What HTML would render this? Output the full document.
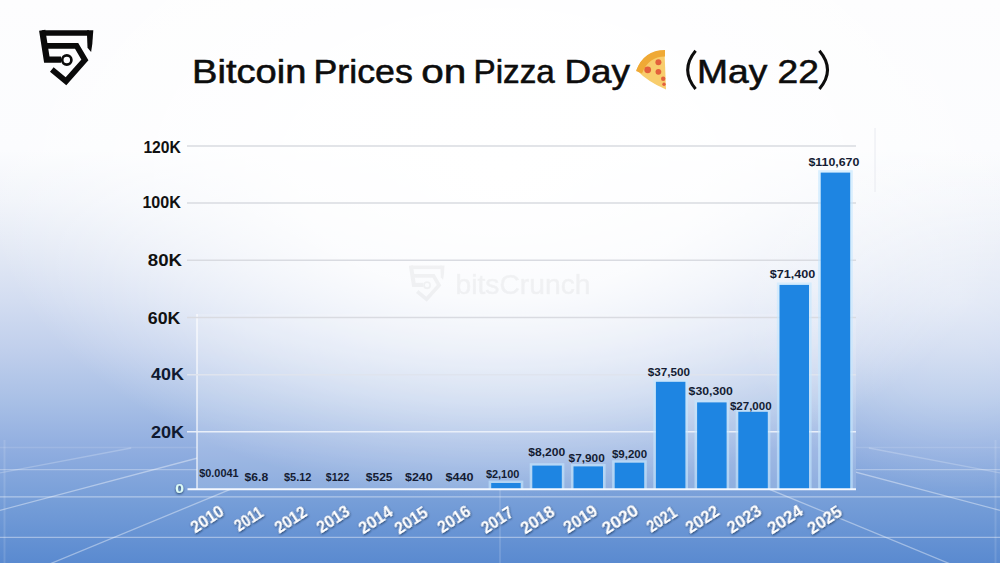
<!DOCTYPE html><html><head><meta charset="utf-8"><style>
html,body{margin:0;padding:0;width:1000px;height:563px;overflow:hidden;background:#fff}
svg{display:block}
text{font-family:"Liberation Sans",sans-serif}
</style></head><body>
<svg width="1000" height="563" viewBox="0 0 1000 563">
<defs>
<linearGradient id="bg" x1="0" y1="0" x2="0" y2="1">
<stop offset="0" stop-color="#fdfdfe"/>
<stop offset="0.266" stop-color="#fbfcfe"/>
<stop offset="0.355" stop-color="#f1f4fa"/>
<stop offset="0.444" stop-color="#e3e9f5"/>
<stop offset="0.533" stop-color="#d3ddf1"/>
<stop offset="0.622" stop-color="#c0cfec"/>
<stop offset="0.71" stop-color="#a9c0e6"/>
<stop offset="0.795" stop-color="#91aee0"/>
<stop offset="0.89" stop-color="#769ed8"/>
<stop offset="1" stop-color="#5a8ad0"/>
</linearGradient>
<radialGradient id="glow" cx="500" cy="170" r="520" gradientUnits="userSpaceOnUse" gradientTransform="translate(500 170) scale(1 0.635) translate(-500 -170)">
<stop offset="0" stop-color="#fff" stop-opacity="1"/>
<stop offset="0.39" stop-color="#fff" stop-opacity="0.88"/>
<stop offset="0.545" stop-color="#fff" stop-opacity="0.68"/>
<stop offset="0.70" stop-color="#fff" stop-opacity="0.45"/>
<stop offset="0.82" stop-color="#fff" stop-opacity="0.25"/>
<stop offset="1" stop-color="#fff" stop-opacity="0"/>
</radialGradient>
<mask id="floormask"><rect width="1000" height="563" fill="#fff"/><rect x="197" y="300" width="659" height="189" fill="#000"/></mask>
<radialGradient id="glowR" cx="960" cy="300" r="220" gradientUnits="userSpaceOnUse" gradientTransform="translate(960 300) scale(1 0.9) translate(-960 -300)">
<stop offset="0" stop-color="#fff" stop-opacity="0.42"/>
<stop offset="0.5" stop-color="#fff" stop-opacity="0.25"/>
<stop offset="1" stop-color="#fff" stop-opacity="0"/>
</radialGradient>
<filter id="pblur" x="-10%" y="-10%" width="120%" height="120%"><feGaussianBlur stdDeviation="0.45"/></filter>
<filter id="ysh" x="-20%" y="-20%" width="140%" height="140%">
<feDropShadow dx="0" dy="1" stdDeviation="0.8" flood-color="#102040" flood-opacity="0.8"/>
</filter>
</defs>
<rect width="1000" height="563" fill="url(#bg)"/>
<rect width="1000" height="563" fill="url(#glow)"/>
<rect width="1000" height="563" fill="url(#glowR)"/>

<g stroke="#ffffff" stroke-width="1.3" fill="none" mask="url(#floormask)">
<line x1="0" y1="447.5" x2="1000" y2="447.5" stroke-opacity="0.12"/>
<line x1="0" y1="469.6" x2="1000" y2="469.6" stroke-opacity="0.3"/>
<line x1="0" y1="496.8" x2="1000" y2="496.8" stroke-opacity="0.42"/>
<line x1="0" y1="537.4" x2="1000" y2="537.4" stroke-opacity="0.4"/>
<line x1="0" y1="510.3" x2="235.4" y2="448.0" stroke-opacity="0.4"/>
<line x1="0" y1="584.5" x2="330.5" y2="448.0" stroke-opacity="0.4"/>
<line x1="0" y1="472.9" x2="131.2" y2="448.0" stroke-opacity="0.22"/>
<line x1="1000" y1="510.3" x2="764.6" y2="448.0" stroke-opacity="0.4"/>
<line x1="1000" y1="584.5" x2="669.5" y2="448.0" stroke-opacity="0.4"/>
<line x1="1000" y1="472.9" x2="868.8" y2="448.0" stroke-opacity="0.22"/>
<line x1="500" y1="563" x2="500.0" y2="448.0" stroke-opacity="0.2"/>
<line x1="4.5" y1="440" x2="4.5" y2="563" stroke-opacity="0.12" stroke-width="2"/>
<line x1="995.5" y1="440" x2="995.5" y2="563" stroke-opacity="0.12" stroke-width="2"/>
</g>
<rect x="197" y="314" width="659" height="175" fill="#ffffff" opacity="0.14"/>
<line x1="197" y1="314" x2="197" y2="489" stroke="#ffffff" stroke-opacity="0.75" stroke-width="1.5"/>
<line x1="875" y1="128" x2="875" y2="192" stroke="#e8eaf0" stroke-width="1"/>
<line x1="187" y1="431.8" x2="856" y2="431.8" stroke="#e9eff9" stroke-width="1.5"/>
<line x1="187" y1="374.7" x2="856" y2="374.7" stroke="#dfe4ee" stroke-width="1.5"/>
<line x1="187" y1="317.5" x2="856" y2="317.5" stroke="#d9dbe1" stroke-width="1.5"/>
<line x1="187" y1="260.3" x2="856" y2="260.3" stroke="#d9dbe1" stroke-width="1.5"/>
<line x1="187" y1="203.1" x2="856" y2="203.1" stroke="#d9dbe1" stroke-width="1.5"/>
<line x1="187" y1="146.0" x2="856" y2="146.0" stroke="#d9dbe1" stroke-width="1.5"/>
<g opacity="0.038" fill="#000"><text x="455.5" y="293.5" font-size="27" textLength="135" lengthAdjust="spacingAndGlyphs" stroke="#000" stroke-width="0.6">bitsCrunch</text></g>
<g opacity="0.038" fill="none" stroke="#000" stroke-linejoin="miter" transform="translate(383 245.6) scale(0.66)"><path d="M42.2 32.9 L89 32.9" stroke-width="5.5"/>
<path d="M61 59.6 L46.8 59.6 L42.2 30.2" stroke-width="6.3"/>
<polygon points="87,30.2 93.3,30.2 92.3,44 91.1,52 87.5,47.8 87,35" fill="#000" stroke="none"/>
<path d="M44 45.9 L76.6 45.9 L84.9 60 L66 81.2 L51.8 69.5" stroke-width="5.7"/>
<circle cx="66.8" cy="60" r="4.6" stroke-width="2.7"/></g>
<rect x="488.6" y="480.6" width="34.7" height="8.4" fill="#c4e8ff" opacity="0.6"/>
<rect x="491.2" y="483.0" width="29.5" height="6.0" fill="#1e85e2"/>
<rect x="529.7" y="463.2" width="34.7" height="25.8" fill="#c4e8ff" opacity="0.6"/>
<rect x="532.3" y="465.6" width="29.5" height="23.4" fill="#1e85e2"/>
<rect x="570.9" y="464.0" width="34.7" height="25.0" fill="#c4e8ff" opacity="0.6"/>
<rect x="573.5" y="466.4" width="29.5" height="22.6" fill="#1e85e2"/>
<rect x="612.1" y="460.3" width="34.7" height="28.7" fill="#c4e8ff" opacity="0.6"/>
<rect x="614.7" y="462.7" width="29.5" height="26.3" fill="#1e85e2"/>
<rect x="653.3" y="379.4" width="34.7" height="109.6" fill="#c4e8ff" opacity="0.6"/>
<rect x="655.9" y="381.8" width="29.5" height="107.2" fill="#1e85e2"/>
<rect x="694.5" y="400.0" width="34.7" height="89.0" fill="#c4e8ff" opacity="0.6"/>
<rect x="697.1" y="402.4" width="29.5" height="86.6" fill="#1e85e2"/>
<rect x="735.7" y="409.4" width="34.7" height="79.6" fill="#c4e8ff" opacity="0.6"/>
<rect x="738.3" y="411.8" width="29.5" height="77.2" fill="#1e85e2"/>
<rect x="776.9" y="282.5" width="34.7" height="206.5" fill="#c4e8ff" opacity="0.6"/>
<rect x="779.5" y="284.9" width="29.5" height="204.1" fill="#1e85e2"/>
<rect x="818.1" y="170.2" width="34.7" height="318.8" fill="#c4e8ff" opacity="0.6"/>
<rect x="820.7" y="172.6" width="29.5" height="316.4" fill="#1e85e2"/>
<line x1="187.5" y1="489.2" x2="856" y2="489.2" stroke="#f4f8ff" stroke-width="2"/>
<text x="175.3" y="493.0" font-size="13.5" font-weight="bold" fill="#dcfbf5" filter="url(#ysh)" textLength="8.7" lengthAdjust="spacingAndGlyphs">0</text>
<text x="150.9" y="437.7" font-size="16.3" font-weight="bold" fill="#101a30" textLength="33.2" lengthAdjust="spacingAndGlyphs">20K</text>
<text x="151.1" y="379.6" font-size="16.8" font-weight="bold" fill="#101a30" textLength="32.9" lengthAdjust="spacingAndGlyphs">40K</text>
<text x="147.8" y="324.2" font-size="16.5" font-weight="bold" fill="#111" textLength="32.6" lengthAdjust="spacingAndGlyphs">60K</text>
<text x="147.8" y="265.9" font-size="16.6" font-weight="bold" fill="#111" textLength="34.2" lengthAdjust="spacingAndGlyphs">80K</text>
<text x="142.4" y="208.2" font-size="17.3" font-weight="bold" fill="#111" textLength="38.5" lengthAdjust="spacingAndGlyphs">100K</text>
<text x="143.4" y="153.2" font-size="17.0" font-weight="bold" fill="#111" textLength="37.5" lengthAdjust="spacingAndGlyphs">120K</text>
<text x="199.2" y="476.6" font-size="11.5" font-weight="bold" fill="#141c33" textLength="39.4" lengthAdjust="spacingAndGlyphs">$0.0041</text>
<text x="244.6" y="480.6" font-size="11.5" font-weight="bold" fill="#141c33" textLength="23.6" lengthAdjust="spacingAndGlyphs">$6.8</text>
<text x="284.0" y="480.6" font-size="11.5" font-weight="bold" fill="#141c33" textLength="27.4" lengthAdjust="spacingAndGlyphs">$5.12</text>
<text x="325.8" y="480.8" font-size="11.5" font-weight="bold" fill="#141c33" textLength="23.5" lengthAdjust="spacingAndGlyphs">$122</text>
<text x="365.8" y="480.8" font-size="11.5" font-weight="bold" fill="#141c33" textLength="26.7" lengthAdjust="spacingAndGlyphs">$525</text>
<text x="405.0" y="480.8" font-size="11.5" font-weight="bold" fill="#141c33" textLength="27.6" lengthAdjust="spacingAndGlyphs">$240</text>
<text x="445.5" y="480.8" font-size="11.5" font-weight="bold" fill="#141c33" textLength="28.0" lengthAdjust="spacingAndGlyphs">$440</text>
<text x="485.9" y="477.9" font-size="11.5" font-weight="bold" fill="#141c33" textLength="33.4" lengthAdjust="spacingAndGlyphs">$2,100</text>
<text x="528.2" y="456.3" font-size="11.5" font-weight="bold" fill="#141c33" textLength="37.0" lengthAdjust="spacingAndGlyphs">$8,200</text>
<text x="568.6" y="461.7" font-size="11.5" font-weight="bold" fill="#141c33" textLength="36.2" lengthAdjust="spacingAndGlyphs">$7,900</text>
<text x="611.9" y="458.1" font-size="11.5" font-weight="bold" fill="#141c33" textLength="35.2" lengthAdjust="spacingAndGlyphs">$9,200</text>
<text x="647.7" y="375.9" font-size="11.5" font-weight="bold" fill="#141c33" textLength="42.2" lengthAdjust="spacingAndGlyphs">$37,500</text>
<text x="688.6" y="394.8" font-size="11.5" font-weight="bold" fill="#141c33" textLength="44.2" lengthAdjust="spacingAndGlyphs">$30,300</text>
<text x="729.9" y="409.5" font-size="11.5" font-weight="bold" fill="#141c33" textLength="41.7" lengthAdjust="spacingAndGlyphs">$27,000</text>
<text x="769.7" y="278.0" font-size="11.5" font-weight="bold" fill="#141c33" textLength="45.5" lengthAdjust="spacingAndGlyphs">$71,400</text>
<text x="808.4" y="166.0" font-size="11.5" font-weight="bold" fill="#141c33" textLength="51.0" lengthAdjust="spacingAndGlyphs">$110,670</text>
<text transform="translate(225.20 514.20) rotate(-33)" font-size="16.5" font-weight="bold" fill="#ffffff" text-anchor="end" filter="url(#ysh)" textLength="35.70" lengthAdjust="spacingAndGlyphs">2010</text>
<text transform="translate(264.72 515.40) rotate(-33)" font-size="16.5" font-weight="bold" fill="#ffffff" text-anchor="end" filter="url(#ysh)" textLength="30.74" lengthAdjust="spacingAndGlyphs">2011</text>
<text transform="translate(308.40 515.00) rotate(-33)" font-size="16.5" font-weight="bold" fill="#ffffff" text-anchor="end" filter="url(#ysh)" textLength="34.75" lengthAdjust="spacingAndGlyphs">2012</text>
<text transform="translate(351.20 514.20) rotate(-33)" font-size="16.5" font-weight="bold" fill="#ffffff" text-anchor="end" filter="url(#ysh)" textLength="35.70" lengthAdjust="spacingAndGlyphs">2013</text>
<text transform="translate(394.08 514.60) rotate(-33)" font-size="16.5" font-weight="bold" fill="#ffffff" text-anchor="end" filter="url(#ysh)" textLength="36.75" lengthAdjust="spacingAndGlyphs">2014</text>
<text transform="translate(429.20 515.40) rotate(-33)" font-size="16.5" font-weight="bold" fill="#ffffff" text-anchor="end" filter="url(#ysh)" textLength="35.70" lengthAdjust="spacingAndGlyphs">2015</text>
<text transform="translate(472.08 514.20) rotate(-33)" font-size="16.5" font-weight="bold" fill="#ffffff" text-anchor="end" filter="url(#ysh)" textLength="35.70" lengthAdjust="spacingAndGlyphs">2016</text>
<text transform="translate(514.80 515.40) rotate(-33)" font-size="16.5" font-weight="bold" fill="#ffffff" text-anchor="end" filter="url(#ysh)" textLength="34.56" lengthAdjust="spacingAndGlyphs">2017</text>
<text transform="translate(556.08 514.60) rotate(-33)" font-size="16.5" font-weight="bold" fill="#ffffff" text-anchor="end" filter="url(#ysh)" textLength="36.75" lengthAdjust="spacingAndGlyphs">2018</text>
<text transform="translate(598.88 513.80) rotate(-33)" font-size="16.5" font-weight="bold" fill="#ffffff" text-anchor="end" filter="url(#ysh)" textLength="36.66" lengthAdjust="spacingAndGlyphs">2019</text>
<text transform="translate(639.76 513.40) rotate(-33)" font-size="16.5" font-weight="bold" fill="#ffffff" text-anchor="end" filter="url(#ysh)" textLength="39.57" lengthAdjust="spacingAndGlyphs">2020</text>
<text transform="translate(678.38 515.40) rotate(-33)" font-size="16.5" font-weight="bold" fill="#ffffff" text-anchor="end" filter="url(#ysh)" textLength="32.34" lengthAdjust="spacingAndGlyphs">2021</text>
<text transform="translate(720.62 514.20) rotate(-33)" font-size="16.5" font-weight="bold" fill="#ffffff" text-anchor="end" filter="url(#ysh)" textLength="36.21" lengthAdjust="spacingAndGlyphs">2022</text>
<text transform="translate(762.86 513.80) rotate(-33)" font-size="16.5" font-weight="bold" fill="#ffffff" text-anchor="end" filter="url(#ysh)" textLength="37.16" lengthAdjust="spacingAndGlyphs">2023</text>
<text transform="translate(804.30 513.80) rotate(-33)" font-size="16.5" font-weight="bold" fill="#ffffff" text-anchor="end" filter="url(#ysh)" textLength="38.61" lengthAdjust="spacingAndGlyphs">2024</text>
<text transform="translate(843.30 514.60) rotate(-33)" font-size="16.5" font-weight="bold" fill="#ffffff" text-anchor="end" filter="url(#ysh)" textLength="37.16" lengthAdjust="spacingAndGlyphs">2025</text>
<text x="192.00" y="82.5" font-size="33" fill="#0d0d0d" stroke="#0d0d0d" stroke-width="0.55" textLength="114.40" lengthAdjust="spacingAndGlyphs">Bitcoin</text>
<text x="313.50" y="82.5" font-size="33" fill="#0d0d0d" stroke="#0d0d0d" stroke-width="0.55" textLength="99.30" lengthAdjust="spacingAndGlyphs">Prices</text>
<text x="421.30" y="82.5" font-size="33" fill="#0d0d0d" stroke="#0d0d0d" stroke-width="0.55" textLength="45.10" lengthAdjust="spacingAndGlyphs">on</text>
<text x="473.50" y="82.5" font-size="33" fill="#0d0d0d" stroke="#0d0d0d" stroke-width="0.55" textLength="81.38" lengthAdjust="spacingAndGlyphs">Pizza</text>
<text x="564.50" y="82.5" font-size="33" fill="#0d0d0d" stroke="#0d0d0d" stroke-width="0.55" textLength="65.50" lengthAdjust="spacingAndGlyphs">Day</text>
<text x="697" y="82.6" font-size="33" fill="#0d0d0d" stroke="#0d0d0d" stroke-width="0.55" textLength="122" lengthAdjust="spacingAndGlyphs">May 22</text>
<path d="M695.6 50.8 Q679.8 70 695.6 89" fill="none" stroke="#0d0d0d" stroke-width="3"/>
<path d="M819.4 50.8 Q835.6 70 819.4 89" fill="none" stroke="#0d0d0d" stroke-width="3"/>
<g filter="url(#pblur)">
<path d="M636.5 70 Q644 51 664.5 51 L666 89.5 Q648 82 636.5 70 Z" fill="#f8cd6c"/>
<path d="M636 71 Q643.5 50 665 50 L665 56.5 Q648.5 56.5 642 73.5 Z" fill="#efa934"/>
<circle cx="647.7" cy="69.8" r="3.4" fill="#e3613b"/>
<circle cx="658.4" cy="62.3" r="3" fill="#e3613b"/>
<circle cx="658.4" cy="71.8" r="2.9" fill="#e3613b"/>
<circle cx="663.2" cy="78.7" r="2.2" fill="#e3613b"/>
<circle cx="664" cy="84.3" r="1.7" fill="#e3613b"/>
</g>
<g fill="none" stroke="#0a0a0a" stroke-linejoin="miter"><path d="M42.2 32.9 L89 32.9" stroke-width="5.5"/>
<path d="M61 59.6 L46.8 59.6 L42.2 30.2" stroke-width="6.3"/>
<polygon points="87,30.2 93.3,30.2 92.3,44 91.1,52 87.5,47.8 87,35" fill="#0a0a0a" stroke="none"/>
<path d="M44 45.9 L76.6 45.9 L84.9 60 L66 81.2 L51.8 69.5" stroke-width="5.7"/>
<circle cx="66.8" cy="60" r="4.6" stroke-width="2.7"/></g>
</svg></body></html>
